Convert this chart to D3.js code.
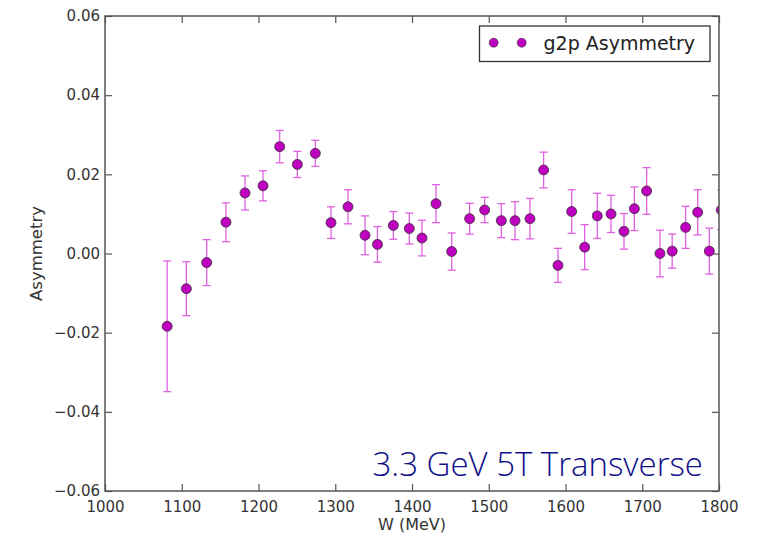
<!DOCTYPE html>
<html>
<head>
<meta charset="utf-8">
<script src="https://cdn.jsdelivr.net/npm/d3@7"></script>
<style>
  html, body { margin: 0; padding: 0; background: #fff; }
  svg { display: block; }
</style>
</head>
<body>
<svg id="chart" width="762" height="539"></svg>
<script>
// W bin centres (MeV)
const W = [1081, 1106, 1132.5, 1157.6, 1182.4, 1205.9, 1227.6, 1250.6, 1274, 1294.5,
           1316.6, 1338.8, 1355, 1375.7, 1396.5, 1413, 1431.3, 1451.7, 1475.1, 1494.7,
           1516.4, 1534.2, 1553.7, 1571.5, 1590.2, 1608, 1625, 1641.4, 1659.3, 1676.2,
           1689.7, 1705.7, 1723.1, 1739, 1756.5, 1772.2, 1787.4, 1803];
// measured asymmetry
const asym = [-0.0184, -0.0089, -0.0023, 0.0079, 0.0153, 0.0171, 0.0270, 0.0225, 0.0253, 0.0078,
              0.0118, 0.0046, 0.0023, 0.0071, 0.0063, 0.0039, 0.0126, 0.0005, 0.0088, 0.0110,
              0.0083, 0.0083, 0.0088, 0.0211, -0.0030, 0.0106, 0.0016, 0.0095, 0.0100, 0.0056,
              0.0113, 0.0158, 0.0000, 0.0006, 0.0066, 0.0104, 0.0006, 0.0110];
// statistical uncertainty
const asymErr = [0.0165, 0.0068, 0.0058, 0.0049, 0.0043, 0.0038, 0.0041, 0.0033, 0.0033, 0.0040,
                 0.0043, 0.0049, 0.0045, 0.0035, 0.0039, 0.0045, 0.0048, 0.0047, 0.0039, 0.0032,
                 0.0043, 0.0048, 0.0051, 0.0045, 0.0043, 0.0055, 0.0057, 0.0057, 0.0047, 0.0045,
                 0.0055, 0.0059, 0.0059, 0.0043, 0.0053, 0.0057, 0.0058, 0.0050];

const xTicks = [1000, 1100, 1200, 1300, 1400, 1500, 1600, 1700, 1800];
const yTicks = [-0.06, -0.04, -0.02, 0.00, 0.02, 0.04, 0.06];

const seriesLabel = "g2p Asymmetry";
const runLabel = "3.3 GeV 5T Transverse";

const margin = { left: 105, top: 16, right: 43, bottom: 48 };
const width = 762, height = 539;
const x0 = margin.left, x1 = width - margin.right;
const y0 = margin.top, y1 = height - margin.bottom;

const svg = d3.select("#chart");
const x = d3.scaleLinear().domain([1000, 1800]).range([x0, x1]);
const y = d3.scaleLinear().domain([-0.06, 0.06]).range([y1, y0]);

const fontTick = "'DejaVu Sans', sans-serif";
const frameColor = "#555";
const tickColor = "#333";

svg.append("defs").append("clipPath").attr("id", "plotClip")
  .append("rect").attr("x", x0).attr("y", y0).attr("width", x1 - x0).attr("height", y1 - y0);

const fmt = d => {
  const s = d3.format(".2f")(Math.abs(d));
  return (d < 0 ? "\u2212" : "") + s;
};

// axes: ticks pointing inwards on all four sides
const axB = d3.axisBottom(x).tickValues(xTicks).tickSizeInner(-7).tickSizeOuter(0).tickPadding(10).tickFormat(d3.format("d"));
const axT = d3.axisTop(x).tickValues(xTicks).tickSizeInner(-7).tickSizeOuter(0).tickFormat("");
const axL = d3.axisLeft(y).tickValues(yTicks).tickSizeInner(-7).tickSizeOuter(0).tickPadding(5).tickFormat(fmt);
const axR = d3.axisRight(y).tickValues(yTicks).tickSizeInner(-7).tickSizeOuter(0).tickFormat("");

function styleAxis(g) {
  g.select(".domain").remove();
  g.selectAll(".tick line").attr("stroke", frameColor).attr("stroke-width", 1.2);
  g.selectAll(".tick text").attr("fill", tickColor).style("font-family", fontTick).style("font-size", "15px");
}

svg.append("g").attr("transform", `translate(0,${y1})`).call(axB).call(styleAxis);
svg.append("g").attr("transform", `translate(0,${y0})`).call(axT).call(styleAxis);
svg.append("g").attr("transform", `translate(${x0},0)`).call(axL).call(styleAxis);
svg.append("g").attr("transform", `translate(${x1},0)`).call(axR).call(styleAxis);

// data
const data = W.map((w, i) => ({ w, a: asym[i], e: asymErr[i] }));
const plot = svg.append("g").attr("clip-path", "url(#plotClip)");
const errColor = "#e060e0";
const cap = 4;

const eb = plot.selectAll("g.err").data(data).join("g").attr("class", "err")
  .attr("stroke", errColor).attr("stroke-width", 1.3);
eb.append("line")
  .attr("x1", d => x(d.w)).attr("x2", d => x(d.w))
  .attr("y1", d => y(d.a - d.e)).attr("y2", d => y(d.a + d.e));
eb.append("line")
  .attr("x1", d => x(d.w) - cap).attr("x2", d => x(d.w) + cap)
  .attr("y1", d => y(d.a + d.e)).attr("y2", d => y(d.a + d.e));
eb.append("line")
  .attr("x1", d => x(d.w) - cap).attr("x2", d => x(d.w) + cap)
  .attr("y1", d => y(d.a - d.e)).attr("y2", d => y(d.a - d.e));

plot.selectAll("circle.pt").data(data).join("circle").attr("class", "pt")
  .attr("cx", d => x(d.w)).attr("cy", d => y(d.a)).attr("r", 5)
  .attr("fill", "#bf00bf").attr("stroke", "#333").attr("stroke-width", 0.8);

// frame
svg.append("rect").attr("x", x0).attr("y", y0).attr("width", x1 - x0).attr("height", y1 - y0)
  .attr("fill", "none").attr("stroke", frameColor).attr("stroke-width", 1.5);

// axis titles
svg.append("text").attr("x", 412).attr("y", 530).attr("text-anchor", "middle")
  .attr("fill", tickColor).style("font-family", fontTick).style("font-size", "16px").text("W (MeV)");
svg.append("text").attr("transform", `translate(42,${(y0 + y1) / 2}) rotate(-90)`).attr("text-anchor", "middle")
  .attr("fill", tickColor).style("font-family", fontTick).style("font-size", "16.5px").text("Asymmetry");

// legend
const leg = svg.append("g");
leg.append("rect").attr("x", 479.5).attr("y", 26).attr("width", 230.5).attr("height", 35.5)
  .attr("fill", "#fff").attr("stroke", "#333").attr("stroke-width", 1.3);
[493.7, 521.7].forEach(cx => leg.append("circle").attr("cx", cx).attr("cy", 42.7).attr("r", 4.5)
  .attr("fill", "#bf00bf").attr("stroke", "#333").attr("stroke-width", 0.6));
leg.append("text").attr("x", 543.5).attr("y", 49.5).attr("fill", "#222")
  .style("font-family", fontTick).style("font-size", "19px").text(seriesLabel);

// run condition annotation
svg.append("text").attr("x", 703).attr("y", 476).attr("text-anchor", "end").attr("fill", "#10108a")
  .style("font-family", "'Open Sans', sans-serif").style("font-weight", 300).style("font-size", "33px").text(runLabel);
</script>
</body>
</html>
